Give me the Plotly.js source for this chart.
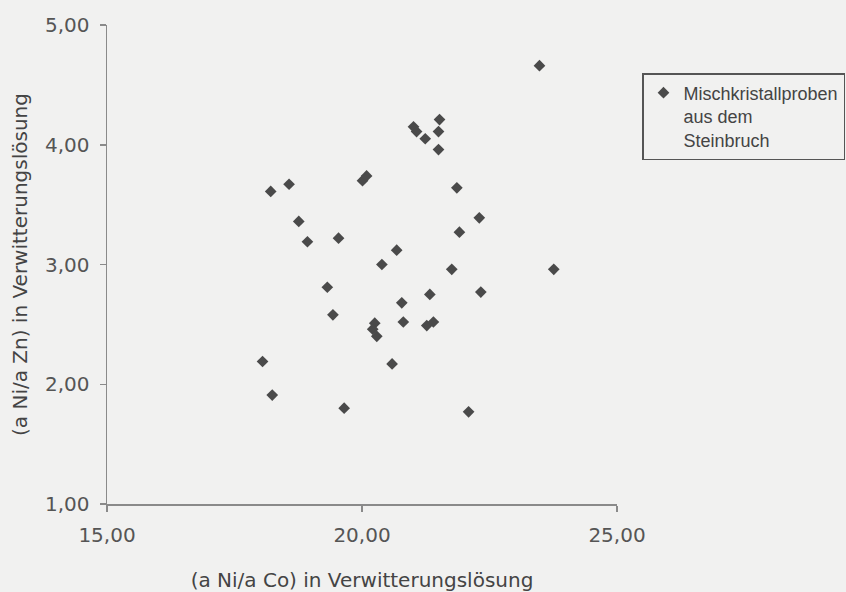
<!DOCTYPE html>
<html>
<head>
<meta charset="utf-8">
<script src="https://cdn.plot.ly/plotly-3.0.1.min.js"></script>
<style>html,body{margin:0;padding:0;background:#f1f1f0;}#chart{width:846px;height:592px;}</style>
</head>
<body>
<div id="chart"></div>
<script>
// (a Ni/a Co) in Verwitterungslösung
const niCo = [18.21, 18.57, 20.01, 20.09, 18.76, 18.93, 19.54, 20.68, 20.39, 19.32,
              20.78, 19.43, 20.81, 20.25, 20.21, 20.29, 18.05, 20.59, 18.24, 19.65,
              23.48, 21.52, 21.50, 21.01, 21.07, 21.24, 21.50, 21.86, 22.30, 21.91,
              21.76, 23.76, 21.33, 22.33, 21.27, 21.40, 22.09];
// (a Ni/a Zn) in Verwitterungslösung
const niZn = [3.61, 3.67, 3.70, 3.74, 3.36, 3.19, 3.22, 3.12, 3.00, 2.81,
              2.68, 2.58, 2.52, 2.51, 2.46, 2.40, 2.19, 2.17, 1.91, 1.80,
              4.66, 4.21, 4.11, 4.15, 4.11, 4.05, 3.96, 3.64, 3.39, 3.27,
              2.96, 2.96, 2.75, 2.77, 2.49, 2.52, 1.77];
const seriesName = "Mischkristallproben<br>aus dem<br>Steinbruch";
const xTitle = "(a Ni/a Co) in Verwitterungslösung";
const yTitle = "(a Ni/a Zn) in Verwitterungslösung";

const font = "DejaVu Sans, sans-serif";
const trace = {
  x: niCo, y: niZn, type: "scatter", mode: "markers", name: seriesName,
  marker: {symbol: "diamond", size: 9, color: "#4a4a4a"},
  showlegend: true
};
const axisCommon = {
  showline: true, linecolor: "#8a8a8a", linewidth: 1.5,
  ticks: "outside", ticklen: 6, tickcolor: "#8a8a8a", tickwidth: 1.5,
  ticklabelstandoff: 6,
  showgrid: false, zeroline: false, tickformat: ".2f",
  tickfont: {family: font, size: 20, color: "#555"}
};
const layout = {
  width: 846, height: 592,
  paper_bgcolor: "#f1f1f0", plot_bgcolor: "#f1f1f0",
  separators: ",.",
  margin: {l: 107, r: 229, t: 25, b: 88, autoexpand: false},
  xaxis: Object.assign({}, axisCommon, {
    range: [15, 25], dtick: 5, tick0: 15,
    title: {text: xTitle, font: {family: font, size: 20, color: "#444"}, standoff: 27}
  }),
  yaxis: Object.assign({}, axisCommon, {
    range: [1, 5], dtick: 1, tick0: 1,
    title: {text: yTitle, font: {family: font, size: 20, color: "#444"}, standoff: 12}
  }),
  legend: {
    x: (642 - 107) / 510, xanchor: "left", y: (504 - 73) / 479, yanchor: "top",
    bordercolor: "#555", borderwidth: 1.5, bgcolor: "rgba(0,0,0,0)",
    font: {family: "Liberation Sans, Arial, sans-serif", size: 18, color: "#444"}, valign: "top"
  },
  showlegend: true
};
Plotly.newPlot("chart", [trace], layout, {displayModeBar: false, staticPlot: true});
</script>
</body>
</html>
